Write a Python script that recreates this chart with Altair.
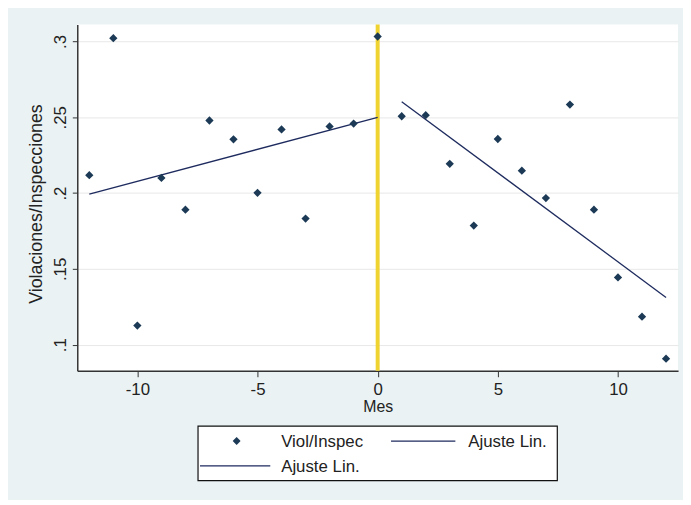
import altair as alt
import pandas as pd

# ---- data ----
mes = list(range(-12, 13))
viol = [0.2118, 0.3022, 0.1126, 0.2100, 0.1891, 0.2479, 0.2355, 0.2002, 0.2420,
        0.1832, 0.2440, 0.2459, 0.3033, 0.2507, 0.2514, 0.2193, 0.1786, 0.2357,
        0.2148, 0.1967, 0.2584, 0.1891, 0.1444, 0.1185, 0.0908]
fit_pre_x = [-12, 0]
fit_pre_y = [0.1993, 0.2500]
fit_post_x = [1, 12]
fit_post_y = [0.2603, 0.1312]
cutoff = [0]
x_ticks = [-10, -5, 0, 5, 10]
y_ticks = [0.1, 0.15, 0.2, 0.25, 0.3]
legend_labels = ["Viol/Inspec", "Ajuste Lin.", "Ajuste Lin."]

pts = pd.DataFrame({"Mes": mes, "v": viol})
fits = pd.DataFrame({
    "Mes": fit_pre_x + fit_post_x,
    "v": fit_pre_y + fit_post_y,
    "tramo": ["pre"] * len(fit_pre_x) + ["post"] * len(fit_post_x),
})
cut = pd.DataFrame({"Mes": cutoff})
one = pd.DataFrame({"k": [0]})

W, H = 607, 350
FONT = "Liberation Sans"
NAVY = "#1c3a56"
LINEC = "#1e2b5e"
TXT = "#222222"

x_scale = alt.Scale(domain=[-12.5, 12.5], nice=False, zero=False)
y_scale = alt.Scale(domain=[0.0828, 0.3113], nice=False, zero=False)

x_axis = alt.Axis(
    values=x_ticks, title="Mes", grid=False,
    labelExpr="datum.value < 0 ? '-' + abs(datum.value) : '' + datum.value",
    labelFont=FONT, labelFontSize=17, labelColor=TXT, labelPadding=5,
    tickSize=6, tickColor="#333333", domainColor="#333333", domainWidth=1.5,
    titleFont=FONT, titleFontSize=16, titleFontWeight="normal", titleColor=TXT,
    titleY=28, titleBaseline="top",
)
y_axis = alt.Axis(
    values=y_ticks, title="Violaciones/Inspecciones",
    labelExpr="substring(format(datum.value, '.2~f'), 1)",
    labelAngle=270, labelAlign="center", labelBaseline="bottom",
    labelFont=FONT, labelFontSize=17, labelColor=TXT, labelPadding=3,
    tickSize=5, tickColor="#333333", domainColor="#333333", domainWidth=1.5,
    grid=True, gridColor="#e8e8e8", gridWidth=1,
    titleFont=FONT, titleFontSize=18, titleFontWeight="normal", titleColor=TXT,
    titleAngle=270, titleX=-41, titleY=181, titleBaseline="middle", titleAlign="center",
)

rule = alt.Chart(cut).mark_rule(color="#efd331", strokeWidth=4).encode(
    x=alt.X("Mes:Q", scale=x_scale, axis=x_axis)
)

lines = alt.Chart(fits).mark_line(color=LINEC, strokeWidth=1.3).encode(
    x=alt.X("Mes:Q", scale=x_scale, axis=x_axis),
    y=alt.Y("v:Q", scale=y_scale, axis=y_axis),
    detail="tramo:N",
)

points = alt.Chart(pts).mark_point(
    shape="diamond", filled=True, size=70, color=NAVY, opacity=1
).encode(
    x=alt.X("Mes:Q", scale=x_scale, axis=x_axis),
    y=alt.Y("v:Q", scale=y_scale, axis=y_axis),
)

# ---- legend (Stata-style box below the plot) ----
leg_box = alt.Chart(one).mark_rect(fill="white", stroke="#111111", strokeWidth=1.2).encode(
    x=alt.value(122), x2=alt.value(485), y=alt.value(406), y2=alt.value(461)
)
leg_pt = alt.Chart(one).mark_point(
    shape="diamond", filled=True, size=64, color=NAVY, opacity=1
).encode(x=alt.value(161), y=alt.value(421))
leg_l1 = alt.Chart(one).mark_rule(color=LINEC, strokeWidth=1.3).encode(
    x=alt.value(317), x2=alt.value(382), y=alt.value(421)
)
leg_l2 = alt.Chart(one).mark_rule(color=LINEC, strokeWidth=1.3).encode(
    x=alt.value(124), x2=alt.value(195), y=alt.value(446)
)
txt_kw = dict(align="left", baseline="middle", font=FONT, fontSize=17, color=TXT)
leg_t1 = alt.Chart(one).mark_text(**txt_kw).encode(
    x=alt.value(206), y=alt.value(422), text=alt.value(legend_labels[0]))
leg_t2 = alt.Chart(one).mark_text(**txt_kw).encode(
    x=alt.value(395), y=alt.value(422), text=alt.value(legend_labels[1]))
leg_t3 = alt.Chart(one).mark_text(**txt_kw).encode(
    x=alt.value(206), y=alt.value(447), text=alt.value(legend_labels[2]))

chart = alt.layer(
    rule, lines, points, leg_box, leg_pt, leg_l1, leg_l2, leg_t1, leg_t2, leg_t3
).properties(
    width=W, height=H,
    autosize=alt.AutoSizeParams(type="none"),
    padding={"left": 70, "top": 14, "right": 5, "bottom": 128},
    background="#eaf2f3",
).configure_view(
    fill="white", stroke=None
)

chart.save("out.html", embed_options={"renderer": "svg", "actions": False})
